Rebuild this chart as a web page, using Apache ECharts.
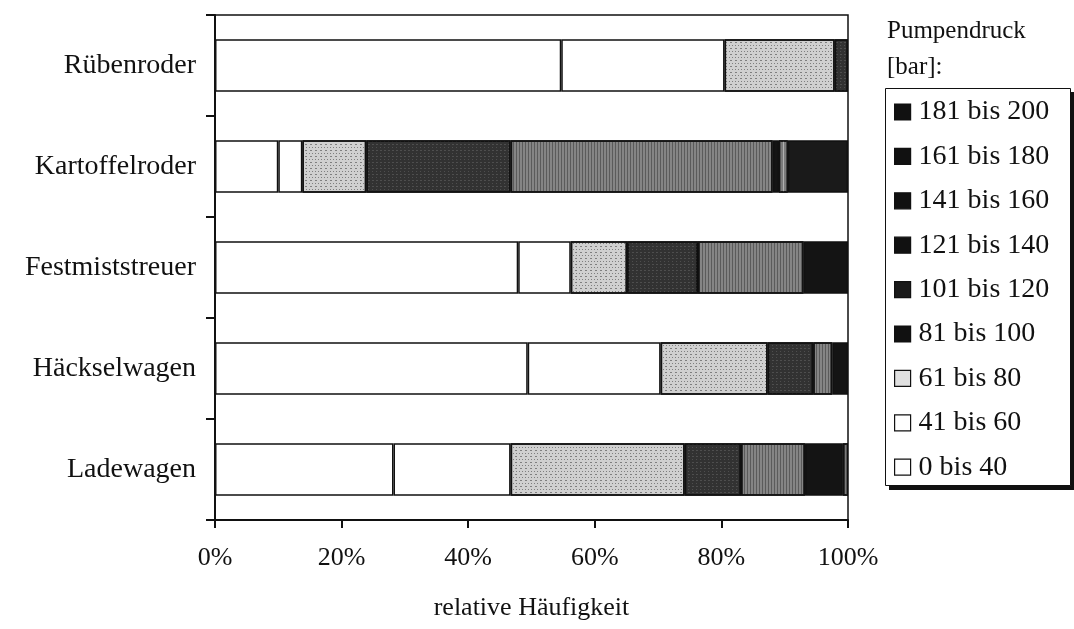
<!DOCTYPE html>
<html>
<head>
<meta charset="utf-8">
<script src="https://cdn.jsdelivr.net/npm/echarts@6/dist/echarts.min.js"></script>
<style>
  html, body { margin: 0; padding: 0; background: #fff; }
  #chart { width: 1074px; height: 629px; }
</style>
</head>
<body>
<div id="chart"></div>
<script>
// Machine types (bottom to top on the category axis)
const categories = ['Ladewagen', 'Häckselwagen', 'Festmiststreuer', 'Kartoffelroder', 'Rübenroder'];

// Pressure classes, stacked left to right
const classNames = ['0 bis 40', '41 bis 60', '61 bis 80', '81 bis 100', '101 bis 120',
                    '121 bis 140', '141 bis 160', '161 bis 180', '181 bis 200'];

// Relative frequency in % per class, in category order
const p0_40    = [28.2, 49.4, 47.9, 10.0, 54.7];
const p41_60   = [18.5, 21.0,  8.3,  3.8, 25.8];
const p61_80   = [27.5, 16.9,  8.9, 10.1, 17.4];
const p81_100  = [ 8.9,  7.2, 11.2, 22.8,  2.1];
const p101_120 = [10.1,  3.0, 16.7, 41.4,  0];
const p121_140 = [ 6.0,  2.5,  7.0,  1.0,  0];
const p141_160 = [ 0.8,  0,    0,    1.4,  0];
const p161_180 = [ 0,    0,    0,    9.5,  0];
const p181_200 = [ 0,    0,    0,    0,    0];

const xTicks = [0, 20, 40, 60, 80, 100];

const seriesValues = [p0_40, p41_60, p61_80, p81_100, p101_120, p121_140, p141_160, p161_180, p181_200];

// Fill styles: plain white, speckled greys, vertical hatching, near-black
const speckleDark = { symbol: 'rect', symbolSize: 1, color: 'rgba(60,60,60,0.55)', dashArrayX: [[1, 2], [2, 3]], dashArrayY: [1, 2] };
const speckleLight = { symbol: 'rect', symbolSize: 1, color: 'rgba(120,120,120,0.4)', dashArrayX: [[1, 3], [2, 2]], dashArrayY: [1, 2] };
const vStripes = { symbol: 'rect', symbolSize: 1, color: 'rgba(40,40,40,0.45)', dashArrayX: [1, 2], dashArrayY: [6, 0] };
const vStripesLight = { symbol: 'rect', symbolSize: 1, color: 'rgba(210,210,210,0.6)', dashArrayX: [1, 2], dashArrayY: [6, 0] };

const fills = [
  { color: '#ffffff' },
  { color: '#ffffff' },
  { color: '#d0d0d0', decal: speckleDark },
  { color: '#323232', decal: speckleLight },
  { color: '#858585', decal: vStripes },
  { color: '#141414' },
  { color: '#7a7a7a', decal: vStripesLight },
  { color: '#1a1a1a' },
  { color: '#111111' }
];

const series = classNames.map((name, i) => ({
  name: name,
  type: 'bar',
  stack: 'total',
  barWidth: '52%',
  data: seriesValues[i].map(v => (v > 0 ? v : '-')),
  itemStyle: Object.assign({ borderColor: '#111', borderWidth: 1.5 }, fills[i]),
  emphasis: { disabled: true }
}));

// Legend lists the highest class first
const legendColors = ['#111', '#111', '#111', '#111', '#1a1a1a', '#111', '#e0e0e0', '#fff', '#fff'];
const legendData = classNames.slice().reverse().map((name, k) => ({
  name: name,
  itemStyle: { color: legendColors[k], borderColor: '#111', borderWidth: 1.2, decal: 'none' }
}));

const serif = '"Liberation Serif", "DejaVu Serif", serif';

const chart = echarts.init(document.getElementById('chart'), null, { renderer: 'canvas' });
chart.setOption({
  animation: false,
  backgroundColor: '#fff',
  textStyle: { fontFamily: serif, color: '#111' },
  title: {
    text: 'Pumpendruck\n[bar]:',
    left: 882,
    top: 8,
    textStyle: { fontFamily: serif, fontSize: 25, fontWeight: 'normal', color: '#111', lineHeight: 36 }
  },
  // Framed legend box with a solid drop shadow
  graphic: [
    { type: 'rect', z: 1, shape: { x: 889, y: 92, width: 185, height: 398 }, style: { fill: '#111' } },
    { type: 'rect', z: 2, shape: { x: 885.5, y: 88.5, width: 185, height: 397 }, style: { fill: '#fff', stroke: '#111', lineWidth: 1 } }
  ],
  legend: {
    orient: 'vertical',
    left: 886,
    top: 89,
    z: 5,
    data: legendData,
    icon: 'rect',
    itemWidth: 16,
    itemHeight: 16,
    itemGap: 16.4,
    padding: [9, 10, 8, 8],
    selectedMode: false,
    textStyle: { fontFamily: serif, fontSize: 28, color: '#111', lineHeight: 28, padding: [0, 0, 0, 3] }
  },
  grid: {
    left: 215,
    right: 226,
    top: 15,
    bottom: 109,
    show: true,
    borderColor: '#111',
    borderWidth: 1.5,
    containLabel: false
  },
  xAxis: {
    type: 'value',
    min: xTicks[0],
    max: xTicks[xTicks.length - 1],
    interval: 20,
    name: 'relative Häufigkeit',
    nameLocation: 'middle',
    nameGap: 75,
    nameTextStyle: { fontFamily: serif, fontSize: 26, color: '#111' },
    axisLine: { show: true, lineStyle: { color: '#111', width: 2 } },
    axisTick: { show: true, length: 8, lineStyle: { color: '#111', width: 2 } },
    axisLabel: { formatter: '{value}%', fontFamily: serif, fontSize: 26, color: '#111', margin: 25 },
    splitLine: { show: false }
  },
  yAxis: {
    type: 'category',
    data: categories,
    boundaryGap: true,
    axisLine: { show: true, lineStyle: { color: '#111', width: 2 } },
    axisTick: { show: true, length: 9, lineStyle: { color: '#111', width: 2 } },
    axisLabel: { fontFamily: serif, fontSize: 28, color: '#111', margin: 19 },
    splitLine: { show: false }
  },
  series: series
});
</script>
</body>
</html>
